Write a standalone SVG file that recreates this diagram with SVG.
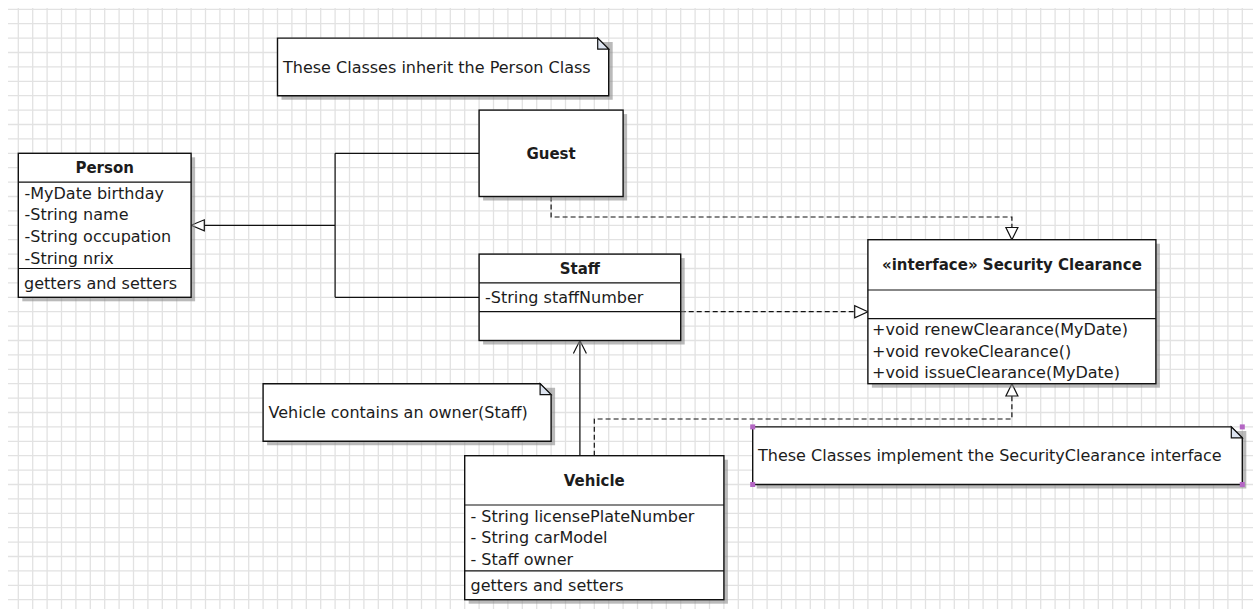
<svg xmlns="http://www.w3.org/2000/svg" width="1253" height="609" viewBox="0 0 1253 609">
<defs>
<style>
.grid{stroke:#e2e2e2;stroke-width:1.3;fill:none}
.box{fill:#fff;stroke:#111;stroke-width:1.4}
.sep{stroke:#111;stroke-width:1.2;fill:none}
.sh{fill:#8c8c8c;opacity:.6}
.t{font-family:"DejaVu Sans","Liberation Sans",sans-serif;font-size:16px;fill:#1c1c1c}
.b{font-family:"DejaVu Sans","Liberation Sans",sans-serif;font-size:15px;font-weight:bold;fill:#1c1c1c}
.ln{stroke:#111;stroke-width:1.2;fill:none}
.dash{stroke-dasharray:5 3}
.tri{fill:#fff;stroke:#111;stroke-width:1.2}
.fold{fill:#dde4f0;stroke:#111;stroke-width:1.2}
.hd{fill:#b466c4}
</style>
</defs>
<rect width="1253" height="609" fill="#fff"/>
<path class="grid" d="M18.3 8V609M32.7 8V609M47.1 8V609M61.5 8V609M75.9 8V609M90.3 8V609M104.7 8V609M119.1 8V609M133.5 8V609M147.9 8V609M162.3 8V609M176.7 8V609M191.1 8V609M205.5 8V609M219.9 8V609M234.3 8V609M248.7 8V609M263.1 8V609M277.5 8V609M291.9 8V609M306.3 8V609M320.7 8V609M335.1 8V609M349.5 8V609M363.9 8V609M378.3 8V609M392.7 8V609M407.1 8V609M421.5 8V609M435.9 8V609M450.3 8V609M464.7 8V609M479.1 8V609M493.5 8V609M507.9 8V609M522.3 8V609M536.7 8V609M551.1 8V609M565.5 8V609M579.9 8V609M594.3 8V609M608.7 8V609M623.1 8V609M637.5 8V609M651.9 8V609M666.3 8V609M680.7 8V609M695.1 8V609M709.5 8V609M723.9 8V609M738.3 8V609M752.7 8V609M767.1 8V609M781.5 8V609M795.9 8V609M810.3 8V609M824.7 8V609M839.1 8V609M853.5 8V609M867.9 8V609M882.3 8V609M896.7 8V609M911.1 8V609M925.5 8V609M939.9 8V609M954.3 8V609M968.7 8V609M983.1 8V609M997.5 8V609M1011.9 8V609M1026.3 8V609M1040.7 8V609M1055.1 8V609M1069.5 8V609M1083.9 8V609M1098.3 8V609M1112.7 8V609M1127.1 8V609M1141.5 8V609M1155.9 8V609M1170.3 8V609M1184.7 8V609M1199.1 8V609M1213.5 8V609M1227.9 8V609M1242.3 8V609M8 9.3H1253M8 23.7H1253M8 38.1H1253M8 52.5H1253M8 66.9H1253M8 81.3H1253M8 95.7H1253M8 110.1H1253M8 124.5H1253M8 138.9H1253M8 153.3H1253M8 167.7H1253M8 182.1H1253M8 196.5H1253M8 210.9H1253M8 225.3H1253M8 239.7H1253M8 254.1H1253M8 268.5H1253M8 282.9H1253M8 297.3H1253M8 311.7H1253M8 326.1H1253M8 340.5H1253M8 354.9H1253M8 369.3H1253M8 383.7H1253M8 398.1H1253M8 412.5H1253M8 426.9H1253M8 441.3H1253M8 455.7H1253M8 470.1H1253M8 484.5H1253M8 498.9H1253M8 513.3H1253M8 527.7H1253M8 542.1H1253M8 556.5H1253M8 570.9H1253M8 585.3H1253M8 599.7H1253"/>

<g id="connectors">
<path class="ln" d="M204.3 225.3H335.1M335.1 153.3V297.3M335.1 153.3H479.1M335.1 297.3H479.1"/>
<polygon class="tri" points="191.1,225.3 204.3,219.8 204.3,230.8"/>
<path class="ln dash" d="M551.1 196.5V217H1011.9V227.5"/>
<polygon class="tri" points="1011.9,239.7 1005.9,227.5 1017.9,227.5"/>
<path class="ln dash" d="M680.7 311.7H854.7"/>
<polygon class="tri" points="867.9,311.7 854.7,305.7 854.7,317.7"/>
<path class="ln dash" d="M594.3 455.7V419H1011.9V396"/>
<polygon class="tri" points="1011.9,383.7 1005.9,396 1017.9,396"/>
<path class="ln" d="M579.9 455.7V340.5M573.4 353.5L579.9 340.5L586.4 353.5"/>
</g>

<g id="note-inherit">
<path class="sh" d="M281.5 42.1H612.7V99.7H281.5Z"/>
<path class="box" d="M277.5 38.1H597.7L608.7 49.1V95.7H277.5Z"/>
<path class="fold" d="M597.7 38.1V49.1H608.7Z"/>
<text class="t" x="283" y="72.5">These Classes inherit the Person Class</text>
</g>

<g id="person">
<rect class="sh" x="22.3" y="157.3" width="172.8" height="144"/>
<rect class="box" x="18.3" y="153.3" width="172.8" height="144"/>
<path class="sep" d="M18.3 182.1H191.1M18.3 268.5H191.1"/>
<text class="b" x="104.7" y="173" text-anchor="middle">Person</text>
<text class="t" x="24.5" y="198.7">-MyDate birthday</text>
<text class="t" x="24.5" y="220.3">-String name</text>
<text class="t" x="24.5" y="241.9">-String occupation</text>
<text class="t" x="24.5" y="263.5">-String nrix</text>
<text class="t" x="24" y="288.7">getters and setters</text>
</g>

<g id="guest">
<rect class="sh" x="483.1" y="114.1" width="144" height="86.4"/>
<rect class="box" x="479.1" y="110.1" width="144" height="86.4"/>
<text class="b" x="551.1" y="158.8" text-anchor="middle">Guest</text>
</g>

<g id="staff">
<rect class="sh" x="483.1" y="258.1" width="201.6" height="86.4"/>
<rect class="box" x="479.1" y="254.1" width="201.6" height="86.4"/>
<path class="sep" d="M479.1 282.9H680.7M479.1 311.7H680.7"/>
<text class="b" x="579.9" y="274" text-anchor="middle">Staff</text>
<text class="t" x="485" y="303">-String staffNumber</text>
</g>

<g id="security-clearance">
<rect class="sh" x="871.9" y="243.7" width="288" height="144"/>
<rect class="box" x="867.9" y="239.7" width="288" height="144"/>
<path class="sep" d="M867.9 290H1155.9M867.9 318.7H1155.9"/>
<text class="b" x="1011.9" y="270.3" text-anchor="middle">«interface» Security Clearance</text>
<text class="t" x="872" y="335.2">+void renewClearance(MyDate)</text>
<text class="t" x="872" y="356.6">+void revokeClearance()</text>
<text class="t" x="872" y="378">+void issueClearance(MyDate)</text>
</g>

<g id="note-vehicle">
<path class="sh" d="M267.1 387.7H555.1V445.3H267.1Z"/>
<path class="box" d="M263.1 383.7H540.1L551.1 394.7V441.3H263.1Z"/>
<path class="fold" d="M540.1 383.7V394.7H551.1Z"/>
<text class="t" x="268.5" y="418">Vehicle contains an owner(Staff)</text>
</g>

<g id="vehicle">
<rect class="sh" x="468.7" y="459.7" width="259.2" height="144"/>
<rect class="box" x="464.7" y="455.7" width="259.2" height="144"/>
<path class="sep" d="M464.7 505H723.9M464.7 570.9H723.9"/>
<text class="b" x="594.3" y="485.8" text-anchor="middle">Vehicle</text>
<text class="t" x="470.5" y="521.5">- String licensePlateNumber</text>
<text class="t" x="470.5" y="543">- String carModel</text>
<text class="t" x="470.5" y="564.5">- Staff owner</text>
<text class="t" x="470.5" y="591">getters and setters</text>
</g>

<g id="note-implement">
<path class="sh" d="M756.7 430.9H1246.3V488.5H756.7Z"/>
<path class="box" d="M752.7 426.9H1231.3L1242.3 437.9V484.5H752.7Z"/>
<path class="fold" d="M1231.3 426.9V437.9H1242.3Z"/>
<text class="t" x="758" y="461">These Classes implement the SecurityClearance interface</text>
<rect class="hd" x="750.2" y="424.4" width="5" height="5"/>
<rect class="hd" x="1239.8" y="424.4" width="5" height="5"/>
<rect class="hd" x="750.2" y="482" width="5" height="5"/>
<rect class="hd" x="1239.8" y="482" width="5" height="5"/>
</g>
</svg>
